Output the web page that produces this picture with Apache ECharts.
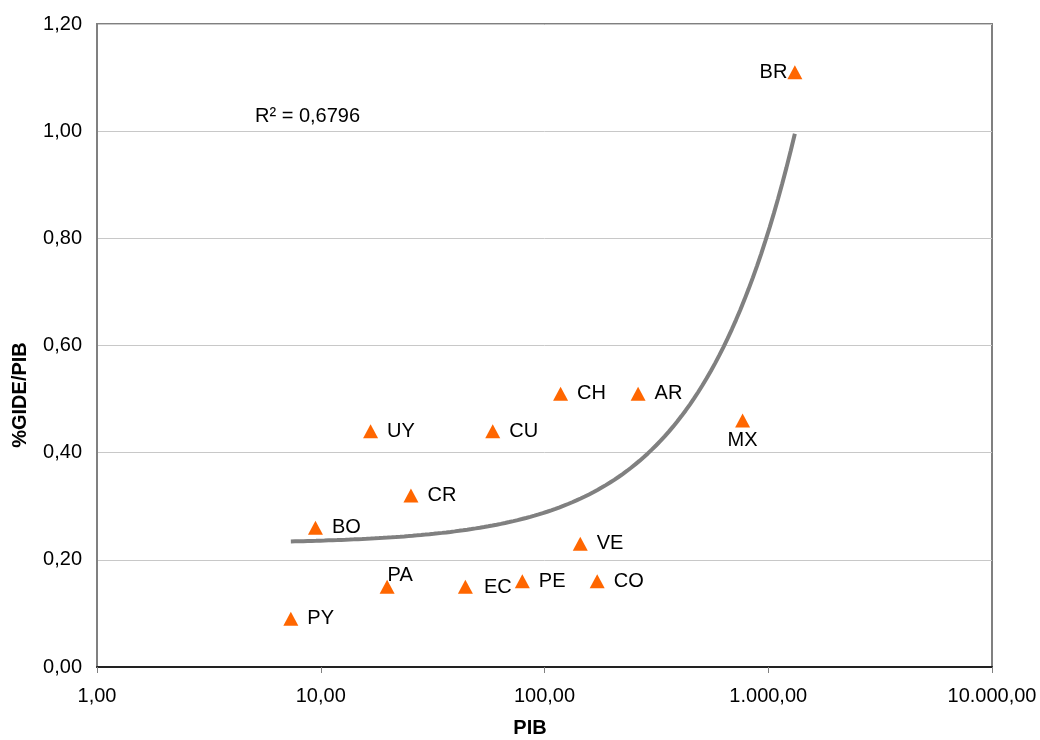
<!DOCTYPE html>
<html>
<head>
<meta charset="utf-8">
<script src="https://cdn.jsdelivr.net/npm/echarts@6/dist/echarts.min.js"></script>
<style>
html,body{margin:0;padding:0;background:#fff;}
#chart{width:1040px;height:740px;}
</style>
</head>
<body>
<div id="chart"></div>
<script>
// ---- data ----
const countries = ['PY','PA','BO','UY','CR','CU','EC','PE','CH','AR','VE','CO','MX','BR'];
const pib       = [7.35, 19.8, 9.47, 16.7, 25.3, 58.7, 44.3, 79.6, 118, 262, 144.5, 172, 768, 1315];
const gidePib   = [0.09, 0.15, 0.26, 0.44, 0.32, 0.44, 0.15, 0.16, 0.51, 0.51, 0.23, 0.16, 0.46, 1.11];
const xTickLabels = ['1,00','10,00','100,00','1.000,00','10.000,00'];
const yTickLabels = ['0,00','0,20','0,40','0,60','0,80','1,00','1,20'];
const r2Text = 'R² = 0,6796';
const xTitle = 'PIB';
const yTitle = '%GIDE/PIB';

// ---- linear trend (least squares on data) ----
const n = pib.length;
const mx = pib.reduce((a,b)=>a+b,0)/n;
const my = gidePib.reduce((a,b)=>a+b,0)/n;
let sxy=0, sxx=0;
for(let i=0;i<n;i++){ sxy+=(pib[i]-mx)*(gidePib[i]-my); sxx+=(pib[i]-mx)*(pib[i]-mx); }
const slope = sxy/sxx, icpt = my - slope*mx;
const xmin = Math.min(...pib), xmax = Math.max(...pib);
const trend = [];
const steps = 120;
for(let k=0;k<=steps;k++){
  const lx = Math.log10(xmin) + (Math.log10(xmax)-Math.log10(xmin))*k/steps;
  const x = Math.pow(10, lx);
  trend.push([x, icpt + slope*x]);
}

// ---- label placement (style, not data) ----
const labelStyle = {
  PA: {position:'inside', offset:[13,-11]},
  MX: {position:'bottom', distance:3},
  BR: {position:'left', distance:0},
  EC: {position:'right', distance:11, offset:[0,1]}
};

const FONT = 'Liberation Sans, Arial, sans-serif';
const pts = countries.map((c,i)=>{
  const ls = labelStyle[c] || {position:'right', distance:9};
  return {value:[pib[i], gidePib[i]], name:c, label:Object.assign({show:true, formatter:c, color:'#000'}, ls)};
});

const chart = echarts.init(document.getElementById('chart'), null, {renderer:'canvas'});
chart.setOption({
  animation:false,
  backgroundColor:'#ffffff',
  textStyle:{fontFamily:FONT},
  grid:{left:97, right:48, top:24, bottom:73, show:true, borderColor:'#808080', borderWidth:2, backgroundColor:'transparent'},
  xAxis:{
    type:'log', logBase:10, min:1, max:10000,
    axisLine:{show:true, onZero:false, lineStyle:{color:'#222222', width:2}},
    axisTick:{show:true, length:6, lineStyle:{color:'#808080', width:1}},
    minorTick:{show:false},
    splitLine:{show:false},
    axisLabel:{color:'#000', fontSize:20, fontFamily:FONT, margin:19,
      formatter:function(v){ const i=Math.round(Math.log10(v)); return xTickLabels[i]!==undefined?xTickLabels[i]:''; }}
  },
  yAxis:{
    type:'value', min:0, max:1.2, interval:0.2,
    axisLine:{show:true, lineStyle:{color:'#808080', width:2}},
    axisTick:{show:false},
    splitLine:{show:true, lineStyle:{color:'#c8c8c8', width:1}},
    axisLabel:{color:'#000', fontSize:20, fontFamily:FONT, margin:15,
      formatter:function(v){ const i=Math.round(v/0.2); return yTickLabels[i]!==undefined?yTickLabels[i]:''; }}
  },
  series:[
    {
      type:'line', data:trend, showSymbol:false, smooth:false,
      lineStyle:{color:'#808080', width:4}, z:2, silent:true
    },
    {
      type:'scatter', data:pts, symbol:'triangle', symbolSize:[15,14],
      itemStyle:{color:'#ff6600', opacity:1}, z:3,
      label:{color:'#000', fontSize:20, fontFamily:FONT}
    }
  ],
  graphic:[
    {type:'text', left:255, top:106, style:{text:r2Text, font:'20px '+FONT, fill:'#000'}},
    {type:'text', x:530, y:728, style:{text:xTitle, font:'bold 20px '+FONT, fill:'#000', align:'center', verticalAlign:'middle'}},
    {type:'text', x:20, y:395, rotation:Math.PI/2, style:{text:yTitle, font:'bold 20px '+FONT, fill:'#000', align:'center', verticalAlign:'middle'}}
  ]
});
</script>
</body>
</html>
